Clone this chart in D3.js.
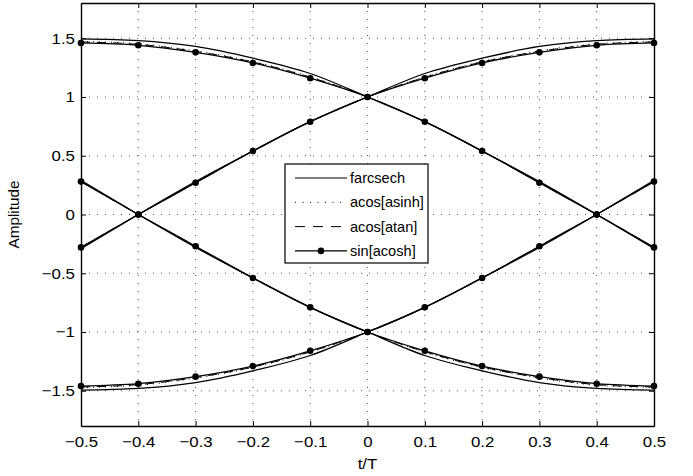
<!DOCTYPE html>
<html>
<head>
<meta charset="utf-8">
<script src="https://cdn.jsdelivr.net/npm/d3@7"></script>
<style>
  body { margin: 0; background: #fff; }
  svg text { font-family: "Liberation Sans", Arial, sans-serif; fill: #000; }
</style>
</head>
<body>
<div id="chart"></div>
<script>
// t/T sample points and axis ticks
let tVals = [-0.5, -0.4, -0.3, -0.2, -0.1, 0, 0.1, 0.2, 0.3, 0.4, 0.5];
let xTicks = [-0.5, -0.4, -0.3, -0.2, -0.1, 0, 0.1, 0.2, 0.3, 0.4, 0.5];
let yTicks = [-1.5, -1, -0.5, 0, 0.5, 1, 1.5];

// farcsech (solid)
let farcsechUpRise = [-0.29, 0, 0.28, 0.54, 0.79, 1.0, 1.2, 1.33, 1.43, 1.48, 1.495];
let farcsechUpFall = [1.495, 1.48, 1.43, 1.33, 1.2, 1.0, 0.79, 0.54, 0.28, 0, -0.29];
let farcsechLoRise = [-1.495, -1.48, -1.43, -1.33, -1.2, -1.0, -0.79, -0.54, -0.28, 0, 0.29];
let farcsechLoFall = [0.29, 0, -0.28, -0.54, -0.79, -1.0, -1.2, -1.33, -1.43, -1.48, -1.495];

// acos[asinh] (dotted)
let asinhUpRise = [-0.28, 0, 0.27, 0.54, 0.79, 1.0, 1.172, 1.302, 1.393, 1.453, 1.473];
let asinhUpFall = [1.473, 1.453, 1.393, 1.302, 1.172, 1.0, 0.79, 0.54, 0.27, 0, -0.28];
let asinhLoRise = [-1.473, -1.453, -1.393, -1.302, -1.172, -1.0, -0.79, -0.54, -0.27, 0, 0.28];
let asinhLoFall = [0.28, 0, -0.27, -0.54, -0.79, -1.0, -1.172, -1.302, -1.393, -1.453, -1.473];

// acos[atan] (dashed)
let atanUpRise = [-0.28, 0, 0.27, 0.54, 0.79, 1.0, 1.168, 1.298, 1.388, 1.448, 1.468];
let atanUpFall = [1.468, 1.448, 1.388, 1.298, 1.168, 1.0, 0.79, 0.54, 0.27, 0, -0.28];
let atanLoRise = [-1.468, -1.448, -1.388, -1.298, -1.168, -1.0, -0.79, -0.54, -0.27, 0, 0.28];
let atanLoFall = [0.28, 0, -0.27, -0.54, -0.79, -1.0, -1.168, -1.298, -1.388, -1.448, -1.468];

// sin[acosh] (solid with dots)
let acoshUpRise = [-0.28, 0, 0.27, 0.54, 0.79, 1.0, 1.16, 1.29, 1.38, 1.44, 1.46];
let acoshUpFall = [1.46, 1.44, 1.38, 1.29, 1.16, 1.0, 0.79, 0.54, 0.27, 0, -0.28];
let acoshLoRise = [-1.46, -1.44, -1.38, -1.29, -1.16, -1.0, -0.79, -0.54, -0.27, 0, 0.28];
let acoshLoFall = [0.28, 0, -0.27, -0.54, -0.79, -1.0, -1.16, -1.29, -1.38, -1.44, -1.46];

let legendNames = ["farcsech", "acos[asinh]", "acos[atan]", "sin[acosh]"];

let series = [
    {name: "farcsech", dash: null, legendDash: null, dots: false, curves: [farcsechUpRise, farcsechUpFall, farcsechLoRise, farcsechLoFall]},
    {name: "acos[asinh]", dash: "1,5", legendDash: "1,6.5", dots: false, curves: [asinhUpRise, asinhUpFall, asinhLoRise, asinhLoFall]},
    {name: "acos[atan]", dash: "9,7", legendDash: "10,8", dots: false, curves: [atanUpRise, atanUpFall, atanLoRise, atanLoFall]},
    {name: "sin[acosh]", dash: null, legendDash: null, dots: true, curves: [acoshUpRise, acoshUpFall, acoshLoRise, acoshLoFall]}
];

// set the dimensions and margins of the graph
let margin = {top: 3, right: 39, bottom: 50, left: 81},
    width = 693 - margin.left - margin.right,
    height = 476 - margin.top - margin.bottom;

let x = d3.scaleLinear().domain([-0.5, 0.5]).range([0, width]);
let y = d3.scaleLinear().domain([-1.8, 1.8]).range([height, 0]);
let fmt = d3.format("");

// tick text in the original looks a bit wider than it is tall
let fontSize = 15.3, stretch = "scale(1.1,1)";

let svg = d3.select("#chart").append("svg")
    .attr("width", 693)
    .attr("height", 476)
    .append("g")
    .attr("transform", "translate(" + margin.left + "," + margin.top + ")");

// dotted grid
svg.append("g").selectAll("line")
    .data(xTicks.slice(1, -1))
    .enter().append("line")
    .attr("x1", d => x(d)).attr("x2", d => x(d))
    .attr("y1", 0).attr("y2", height)
    .attr("stroke", "#555").attr("stroke-width", 1)
    .attr("stroke-dasharray", "1,7");
svg.append("g").selectAll("line")
    .data(yTicks)
    .enter().append("line")
    .attr("x1", 0).attr("x2", width)
    .attr("y1", d => y(d)).attr("y2", d => y(d))
    .attr("stroke", "#555").attr("stroke-width", 1)
    .attr("stroke-dasharray", "1,7");

// curves
let line = d3.line()
    .x((d, i) => x(tVals[i]))
    .y(d => y(d))
    .curve(d3.curveMonotoneX);

series.forEach(function(s) {
    s.curves.forEach(function(c) {
        svg.append("path")
            .attr("d", line(c))
            .attr("fill", "none")
            .attr("stroke", "#000")
            .attr("stroke-width", s.dash ? 1 : 1.3)
            .attr("stroke-dasharray", s.dash);
        if (s.dots) {
            svg.append("g").selectAll("circle")
                .data(c)
                .enter().append("circle")
                .attr("cx", (d, i) => x(tVals[i]))
                .attr("cy", d => y(d))
                .attr("r", 3.3)
                .attr("fill", "#000");
        }
    });
});

// axes with inward ticks on all four sides
let bottomAxis = svg.append("g")
    .attr("transform", "translate(0," + height + ")")
    .call(d3.axisBottom(x).tickValues(xTicks).tickFormat(fmt).tickSizeInner(-5).tickSizeOuter(0).tickPadding(10));
let topAxis = svg.append("g")
    .call(d3.axisTop(x).tickValues(xTicks).tickFormat("").tickSizeInner(-5).tickSizeOuter(0));
let leftAxis = svg.append("g")
    .call(d3.axisLeft(y).tickValues(yTicks).tickFormat(fmt).tickSizeInner(-5).tickSizeOuter(0).tickPadding(5.5));
let rightAxis = svg.append("g")
    .attr("transform", "translate(" + width + ",0)")
    .call(d3.axisRight(y).tickValues(yTicks).tickFormat("").tickSizeInner(-5).tickSizeOuter(0));

[bottomAxis, topAxis, leftAxis, rightAxis].forEach(function(a) {
    a.select(".domain").attr("stroke", "#000").attr("stroke-width", 1.4);
    a.selectAll(".tick line").attr("stroke", "#000").attr("stroke-width", 1);
    a.selectAll("text")
        .attr("font-size", fontSize)
        .attr("font-family", "Liberation Sans, Arial, sans-serif")
        .attr("transform", stretch);
});

// axis labels
svg.append("text")
    .attr("transform", "translate(" + (width / 2) + "," + (height + 43) + ") " + stretch)
    .style("text-anchor", "middle")
    .attr("font-size", fontSize)
    .text("t/T");

svg.append("text")
    .attr("transform", "rotate(-90)")
    .attr("x", -y(0))
    .attr("y", -62)
    .style("text-anchor", "middle")
    .attr("font-size", fontSize)
    .text("Amplitude");

// legend
let lgX = 204, lgY = 161, lgW = 143, lgH = 99, rowH = 24.3;
let legend = svg.append("g").attr("transform", "translate(" + lgX + "," + lgY + ")");
legend.append("rect")
    .attr("width", lgW).attr("height", lgH)
    .attr("fill", "#fff").attr("stroke", "#000").attr("stroke-width", 1.2);

legendNames.forEach(function(name, i) {
    let s = series[i];
    let ry = 14 + i * rowH;
    legend.append("line")
        .attr("x1", 10).attr("x2", 62)
        .attr("y1", ry).attr("y2", ry)
        .attr("stroke", "#000")
        .attr("stroke-width", s.dash ? 1 : 1.2)
        .attr("stroke-dasharray", s.legendDash);
    if (s.dots) {
        legend.append("circle").attr("cx", 36).attr("cy", ry).attr("r", 3.3).attr("fill", "#000");
    }
    legend.append("text")
        .attr("x", 65)
        .attr("y", ry)
        .attr("dy", "0.35em")
        .attr("font-size", 14.6)
        .text(name);
});
</script>
</body>
</html>
